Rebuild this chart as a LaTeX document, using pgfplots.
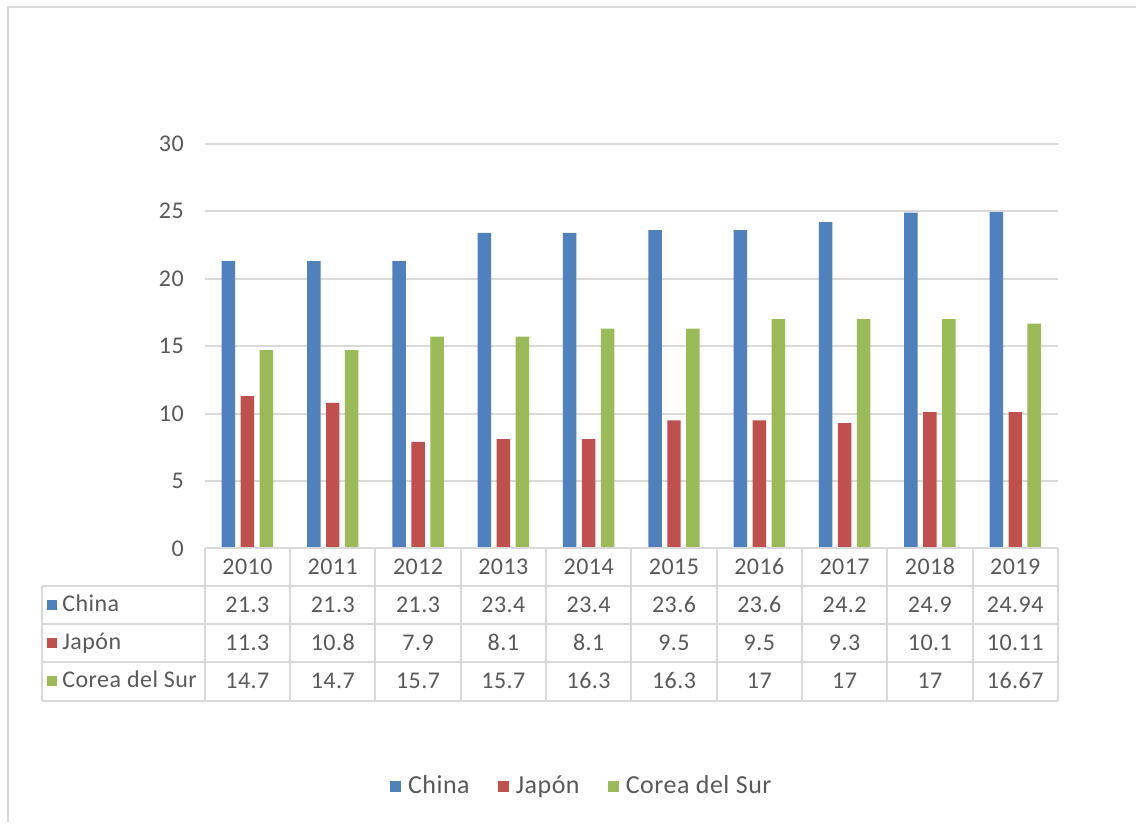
\documentclass[border=0pt]{standalone}
\usepackage{fontspec}
\setmainfont{Carlito}[LetterSpace=2]
\usepackage{pgfplots}
\usepackage{pgfplotstable}
\pgfplotsset{compat=1.18}
\definecolor{cblue}{HTML}{4F81BD}
\definecolor{cred}{HTML}{C0504D}
\definecolor{cgreen}{HTML}{9BBB59}
\definecolor{ctext}{HTML}{595959}
\definecolor{cgrid}{HTML}{D9D9D9}
\pgfplotstableread{
x year china japon corea
0 2010 21.3 11.3 14.7
1 2011 21.3 10.8 14.7
2 2012 21.3 7.9 15.7
3 2013 23.4 8.1 15.7
4 2014 23.4 8.1 16.3
5 2015 23.6 9.5 16.3
6 2016 23.6 9.5 17
7 2017 24.2 9.3 17
8 2018 24.9 10.1 17
9 2019 24.94 10.11 16.67
}\data
\newcommand\tfont{\fontsize{12}{14}\selectfont}
\newcommand\lfont{\fontsize{13}{15}\selectfont}
\begin{document}
\begin{tikzpicture}
\begin{scope}[x=0.5pt,y=-0.5pt]
\fill[white] (0,0) rectangle (1137,823);
\draw[cgrid, line width=1.2pt] (8,823) -- (8,7) -- (1137,7);
\end{scope}
\begin{axis}[
  at={(102.5pt,-274.5pt)}, anchor=south west,
  width=427pt, height=202.5pt, scale only axis,
  xmin=-0.5, xmax=9.5, ymin=0, ymax=30,
  ybar=2.75pt, bar width=6.75pt,
  axis line style={draw=none},
  xtick=\empty, ytick={0,5,...,30},
  ymajorgrids, grid style={cgrid, line width=1pt},
  major tick style={draw=none},
  /pgf/number format/assume math mode=true,
  yticklabel style={font=\tfont, text=ctext, xshift=-7pt},
  legend style={at={(0.443,-0.588)}, anchor=center, draw=none, fill=none,
    legend columns=3, font=\lfont, text=ctext,
    /tikz/every even column/.append style={column sep=12pt},
    /tikz/every odd column/.append style={column sep=1.5pt}},
  legend image code/.code={\fill[#1] (0pt,-2.8pt) rectangle (5.6pt,2.8pt);},
]
\addplot[fill=cblue, draw=none] table[x=x, y=china] {\data};
\addplot[fill=cred, draw=none] table[x=x, y=japon] {\data};
\addplot[fill=cgreen, draw=none] table[x=x, y=corea] {\data};
\legend{China, Japón, Corea del Sur}
\end{axis}
\begin{scope}[x=0.5pt,y=-0.5pt, tt/.style={font=\tfont, text=ctext, anchor=center, text height=1.5ex, text depth=0.25ex, inner sep=0pt}]
\draw[cgrid, line width=1pt] (205,549) -- (1059,549);
\foreach \yy in {587,625,663,702} \draw[cgrid, line width=1pt] (42,\yy) -- (1059,\yy);
\draw[cgrid, line width=1pt] (42,587) -- (42,702);
\foreach \k in {0,...,10} \draw[cgrid, line width=1pt] ({205+85.4*\k},549) -- ({205+85.4*\k},702);
\fill[cblue] (47,601) rectangle (57,611);
\fill[cred] (47,639) rectangle (57,649);
\fill[cgreen] (47,677) rectangle (57,687);
\node[tt, anchor=west] at (62,606) {China};
\node[tt, anchor=west] at (62,644) {Japón};
\node[tt, anchor=west] at (62,682.5) {Corea del Sur};
\foreach \i in {0,...,9} {
  \pgfmathsetmacro\cx{247.7+85.4*\i}
  \pgfplotstablegetelem{\i}{year}\of\data
  \node[tt] at (\cx,569) {\pgfplotsretval};
  \pgfplotstablegetelem{\i}{china}\of\data
  \node[tt] at (\cx,607) {\pgfplotsretval};
  \pgfplotstablegetelem{\i}{japon}\of\data
  \node[tt] at (\cx,645) {\pgfplotsretval};
  \pgfplotstablegetelem{\i}{corea}\of\data
  \node[tt] at (\cx,683.5) {\pgfplotsretval};
}
\end{scope}
\end{tikzpicture}
\end{document}
